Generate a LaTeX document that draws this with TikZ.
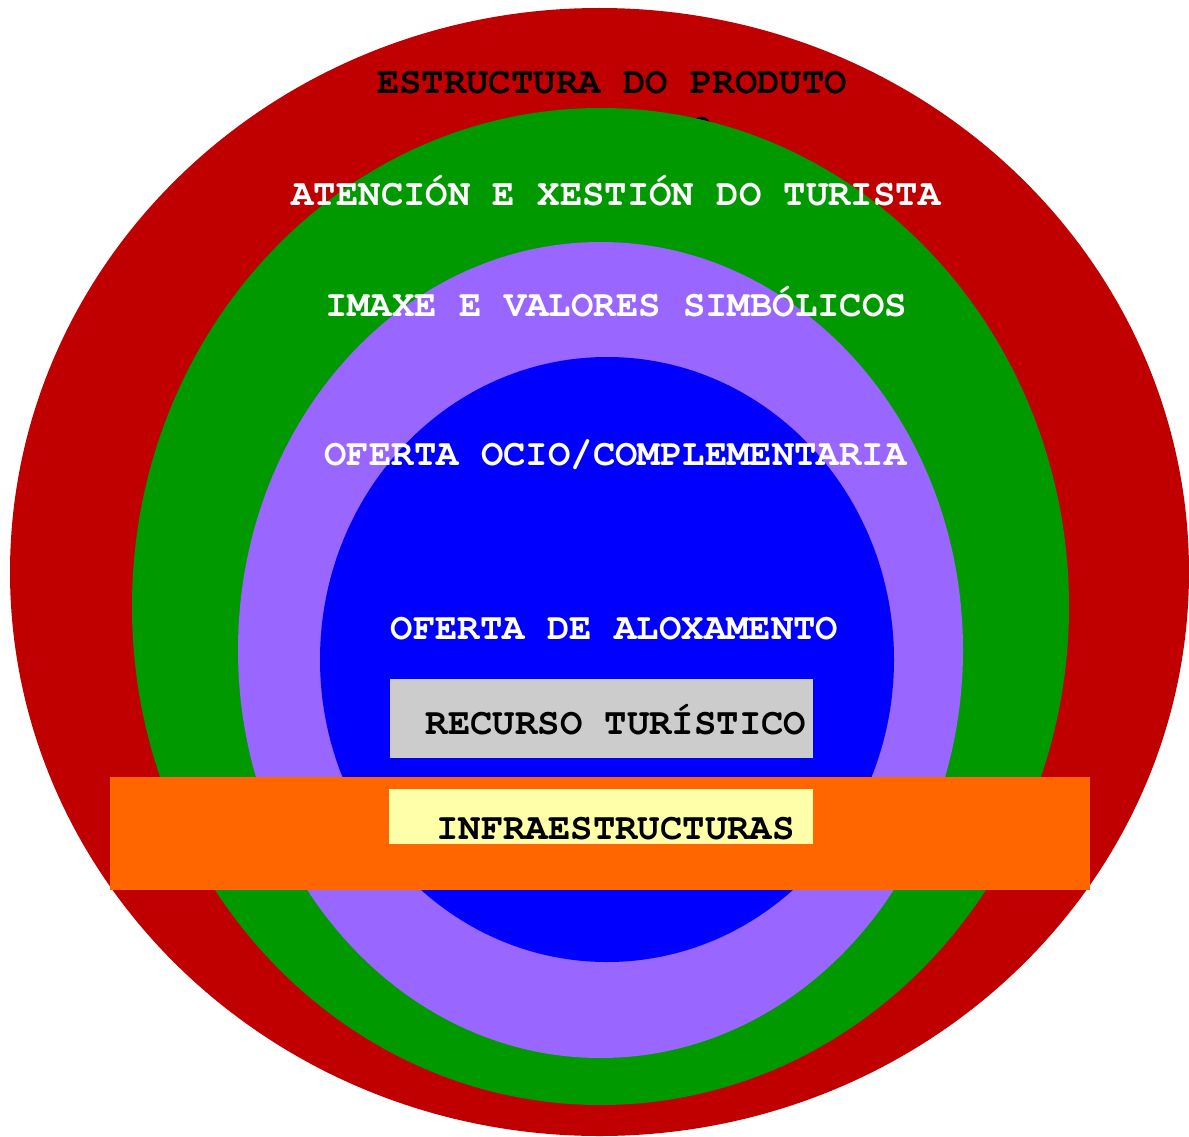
\documentclass[tikz,border=0pt]{standalone}
\usepackage{fontspec}
\setmonofont{TeX Gyre Cursor}
\usetikzlibrary{shapes.geometric}

\definecolor{ringred}{HTML}{C00000}
\definecolor{ringgreen}{HTML}{009900}
\definecolor{ringlilac}{HTML}{9966FF}
\definecolor{ringblue}{HTML}{0000FF}
\definecolor{boxgrey}{HTML}{CCCCCC}
\definecolor{boxorange}{HTML}{FF6600}
\definecolor{boxyellow}{HTML}{FFFFAA}

\begin{document}
\begin{tikzpicture}[x=1pt, y=-1pt,
        ring_style/.style={ellipse,inner sep=0pt,outer sep=0pt},
        box_style/.style={rectangle,inner sep=0pt,outer sep=0pt},
        label_style/.style={anchor=base,inner sep=0pt,font=\ttfamily\bfseries\fontsize{37.3}{38}\selectfont},
        dark_label_style/.style={label_style,text=black},
        light_label_style/.style={label_style,text=white}]

        \useasboundingbox (0,0) rectangle (1189,1137);

        \node [ring_style,fill=ringred,minimum width=1179pt,minimum height=1128pt](produto) at (599.5,572) {};

        \node [dark_label_style,align=center](produto_text) at (612,140) {ESTRUCTURA DO PRODUTO\\[9pt]TURÍSTICO};

        \node [ring_style,fill=ringgreen,minimum width=937pt,minimum height=997pt](turista) at (600.5,606.5) {};

        \node [ring_style,fill=ringlilac,minimum width=725pt,minimum height=816pt](imaxe) at (600.5,650) {};

        \node [ring_style,fill=ringblue,minimum width=574pt,minimum height=605pt](oferta) at (607,659.5) {};

        \node [box_style,fill=boxgrey,minimum width=423pt,minimum height=79pt](recurso) at (601.5,718.5) {};

        \node [box_style,fill=boxorange,minimum width=980pt,minimum height=113pt](infra) at (600,833.5) {};

        \node [box_style,fill=boxyellow,minimum width=424pt,minimum height=55pt](infra_box) at (601,816.5) {};

        \node [light_label_style](turista_text) at (616,205) {ATENCIÓN E XESTIÓN DO TURISTA};

        \node [light_label_style](imaxe_text) at (616,316) {IMAXE E VALORES SIMBÓLICOS};

        \node [light_label_style](ocio_text) at (615.5,465) {OFERTA OCIO/COMPLEMENTARIA};

        \node [light_label_style](aloxamento_text) at (614.5,639) {OFERTA DE ALOXAMENTO};

        \node [dark_label_style](recurso_text) at (616,734) {RECURSO TURÍSTICO};

        \node [dark_label_style](infra_text) at (615.5,839) {INFRAESTRUCTURAS};

        \end{tikzpicture}
\end{document}
